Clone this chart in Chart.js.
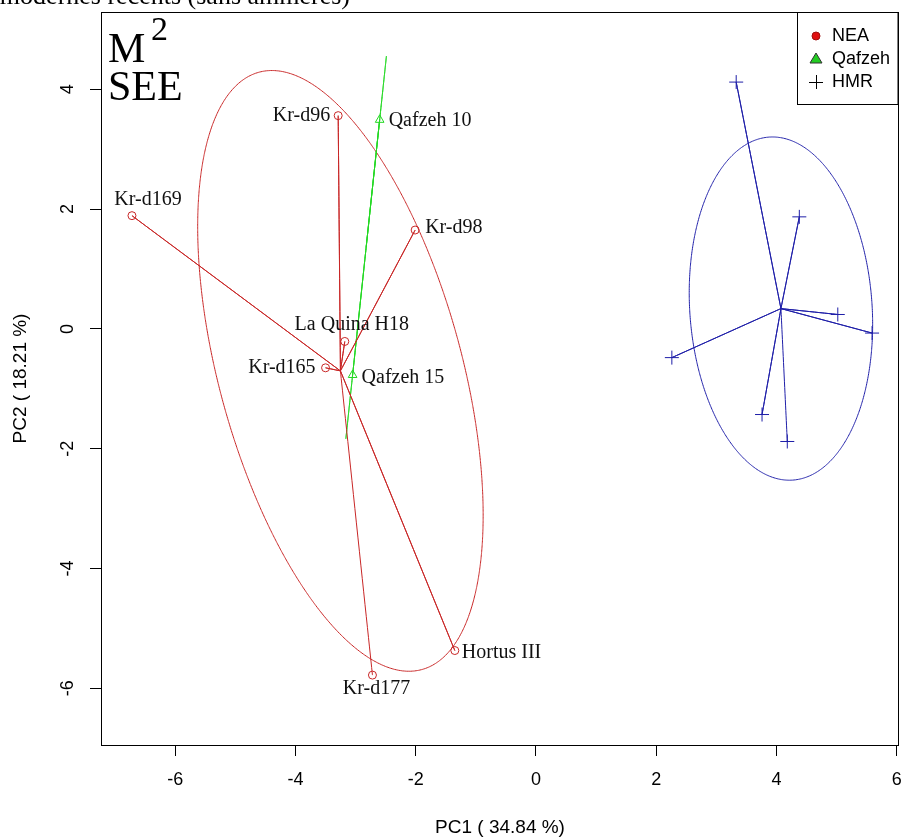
<!DOCTYPE html>
<html>
<head>
<meta charset="utf-8">
<script src="https://cdn.jsdelivr.net/npm/chart.js@4.4.1/dist/chart.umd.min.js"></script>
<style>
  body { margin: 0; background: #fff; }
  canvas { display: block; }
</style>
</head>
<body>
<canvas id="pca" width="902" height="839"></canvas>
<script>
// group names (legend order)
const groupNames = ["NEA", "Qafzeh", "HMR"];

// Neandertals
const neaLabels = ["Kr-d96", "Kr-d169", "Kr-d98", "La Quina H18", "Kr-d165", "Hortus III", "Kr-d177"];
const neaPC1 = [-3.29, -6.72, -2.01, -3.18, -3.50, -1.35, -2.72];
const neaPC2 = [3.56, 1.89, 1.65, -0.21, -0.65, -5.37, -5.78];

// Qafzeh
const qafLabels = ["Qafzeh 10", "Qafzeh 15"];
const qafPC1 = [-2.60, -3.05];
const qafPC2 = [3.49, -0.77];

// recent modern humans (no labels)
const hmrPC1 = [3.33, 4.38, 5.02, 5.59, 2.26, 3.76, 4.18];
const hmrPC2 = [4.12, 1.87, 0.24, -0.07, -0.48, -1.43, -1.88];

const xTicks = [-6, -4, -2, 0, 2, 4, 6];
const yTicks = [-6, -4, -2, 0, 2, 4];

// label placement : pixel offset from the point + alignment
const neaLabelPos = [[-8, 0, "right"], [16, -16, "center"], [10, -2, "left"], [7, -17, "center"], [-10, 0, "right"], [7, 2, "left"], [4, 14, "center"]];
const qafLabelPos = [[9, 1, "left"], [9, 3, "left"]];

const RED = "#c82626";
const GREEN = "#22d822";
const BLUE = "#1e1ea8";
const SERIF = "'Liberation Serif', 'Times New Roman', serif";
const SANS = "'Liberation Sans', Arial, sans-serif";

function toPts(xs, ys) {
    return xs.map((x, i) => ({ x: x, y: ys[i] }));
}

function centroid(xs, ys) {
    let mx = 0, my = 0;
    for (let i = 0; i < xs.length; i++) { mx += xs[i]; my += ys[i]; }
    return { x: mx / xs.length, y: my / ys.length };
}

// star : centre -> each point
function starPts(xs, ys) {
    const c = centroid(xs, ys);
    const out = [];
    for (let i = 0; i < xs.length; i++) {
        out.push(c, { x: xs[i], y: ys[i] });
    }
    return out;
}

// inertia ellipse (cellipse = 1.5, like ade4 s.class)
function ellipsePts(xs, ys, k) {
    const c = centroid(xs, ys);
    const n = xs.length;
    let vxx = 0, vyy = 0, vxy = 0;
    for (let i = 0; i < n; i++) {
        const dx = xs[i] - c.x, dy = ys[i] - c.y;
        vxx += dx * dx / n; vyy += dy * dy / n; vxy += dx * dy / n;
    }
    const tr = vxx + vyy, det = vxx * vyy - vxy * vxy;
    const disc = Math.sqrt(Math.max(tr * tr / 4 - det, 0));
    const l1 = tr / 2 + disc, l2 = Math.max(tr / 2 - disc, 0);
    let v1x, v1y;
    if (Math.abs(vxy) > 1e-12) { v1x = l1 - vyy; v1y = vxy; }
    else if (vxx >= vyy) { v1x = 1; v1y = 0; }
    else { v1x = 0; v1y = 1; }
    const nrm = Math.sqrt(v1x * v1x + v1y * v1y);
    v1x /= nrm; v1y /= nrm;
    const v2x = -v1y, v2y = v1x;
    const a = k * Math.sqrt(l1), b = k * Math.sqrt(l2);
    const pts = [];
    for (let j = 0; j <= 200; j++) {
        const t = j / 200 * 2 * Math.PI;
        pts.push({
            x: c.x + a * Math.cos(t) * v1x + b * Math.sin(t) * v2x,
            y: c.y + a * Math.cos(t) * v1y + b * Math.sin(t) * v2y
        });
    }
    return pts;
}

// tension just above 0 keeps chart.js off its fast path (it breaks back-and-forth lines)
function lineSet(data, color, order) {
    return {
        data: data, showLine: true, borderColor: color, borderWidth: 1,
        pointRadius: 0, fill: false, tension: 0.001, order: order
    };
}

function pointSet(data, color, style, radius) {
    return {
        data: data, showLine: false, pointStyle: style, pointRadius: radius,
        pointBorderColor: color, pointBackgroundColor: "rgba(0,0,0,0)",
        pointBorderWidth: 1, order: 1
    };
}

// extra drawing: box, point labels, title text, legend
const annotPlugin = {
    id: "annot",
    afterDatasetsDraw(chart) {
        const ctx = chart.ctx;
        const ca = chart.chartArea;
        const xs = chart.scales.x, ys = chart.scales.y;
        ctx.save();

        // plot box
        ctx.strokeStyle = "#000";
        ctx.lineWidth = 1;
        ctx.strokeRect(ca.left + 0.5, ca.top + 0.5, ca.right - ca.left - 1, ca.bottom - ca.top);

        // point labels
        ctx.fillStyle = "#111";
        ctx.font = "20px " + SERIF;
        ctx.textBaseline = "middle";
        function labelGroup(names, px, py, pos) {
            names.forEach((nm, i) => {
                const p = pos[i];
                ctx.textAlign = p[2];
                ctx.fillText(nm, xs.getPixelForValue(px[i]) + p[0], ys.getPixelForValue(py[i]) + p[1]);
            });
        }
        labelGroup(neaLabels, neaPC1, neaPC2, neaLabelPos);
        labelGroup(qafLabels, qafPC1, qafPC2, qafLabelPos);

        // M2 / SEE
        ctx.fillStyle = "#000";
        ctx.textAlign = "left";
        ctx.textBaseline = "alphabetic";
        ctx.font = "42px " + SERIF;
        ctx.fillText("M", 108, 62);
        ctx.fillText("SEE", 108, 100);
        ctx.font = "34px " + SERIF;
        ctx.fillText("2", 151, 40);

        // cut title at the very top
        ctx.font = "26px " + SERIF;
        ctx.textAlign = "right";
        ctx.fillText("Hommes modernes récents (sans ammeres)", 350, 4);

        // legend
        const lLeft = 797.5, lTop = ca.top + 0.5, lW = ca.right - 798.5, lH = 92;
        ctx.fillStyle = "#fff";
        ctx.fillRect(lLeft, lTop, lW, lH);
        ctx.strokeStyle = "#000";
        ctx.strokeRect(lLeft, lTop, lW, lH);
        const lx = 816, ly = [36, 59, 82];
        // NEA : red dot
        ctx.beginPath();
        ctx.arc(lx, ly[0], 4, 0, 2 * Math.PI);
        ctx.fillStyle = "#e01010";
        ctx.fill();
        ctx.strokeStyle = "#a01010";
        ctx.stroke();
        // Qafzeh : green triangle
        ctx.beginPath();
        ctx.moveTo(lx, ly[1] - 6);
        ctx.lineTo(lx + 6, ly[1] + 4);
        ctx.lineTo(lx - 6, ly[1] + 4);
        ctx.closePath();
        ctx.fillStyle = "#22cc22";
        ctx.fill();
        ctx.strokeStyle = "#333";
        ctx.stroke();
        // HMR : plus
        ctx.beginPath();
        ctx.moveTo(lx - 7, ly[2] + 0.5); ctx.lineTo(lx + 7, ly[2] + 0.5);
        ctx.moveTo(lx + 0.5, ly[2] - 7); ctx.lineTo(lx + 0.5, ly[2] + 7);
        ctx.strokeStyle = "#000";
        ctx.stroke();
        ctx.fillStyle = "#000";
        ctx.font = "18px " + SANS;
        ctx.textAlign = "left";
        ctx.textBaseline = "middle";
        groupNames.forEach((g, i) => ctx.fillText(g, 832, ly[i]));

        ctx.restore();
    }
};

new Chart(document.getElementById("pca"), {
    type: "scatter",
    data: {
        datasets: [
            lineSet(ellipsePts(neaPC1, neaPC2, 1.5), RED, 3),
            lineSet(ellipsePts(qafPC1, qafPC2, 1.5), GREEN, 3),
            lineSet(ellipsePts(hmrPC1, hmrPC2, 1.5), BLUE, 3),
            lineSet(starPts(neaPC1, neaPC2), RED, 2),
            lineSet(starPts(qafPC1, qafPC2), GREEN, 2),
            lineSet(starPts(hmrPC1, hmrPC2), BLUE, 2),
            pointSet(toPts(neaPC1, neaPC2), RED, "circle", 4),
            pointSet(toPts(qafPC1, qafPC2), GREEN, "triangle", 5),
            pointSet(toPts(hmrPC1, hmrPC2), BLUE, "cross", 7)
        ]
    },
    options: {
        responsive: false,
        animation: false,
        layout: { autoPadding: false, padding: { top: 12, right: 3, left: 0, bottom: 0 } },
        plugins: {
            legend: { display: false },
            tooltip: { enabled: false }
        },
        scales: {
            x: {
                type: "linear",
                min: -7.235,
                max: 6.038,
                afterFit: s => { s.height = 94; s.paddingLeft = 0; s.paddingRight = 0; },
                afterBuildTicks: s => { s.ticks = xTicks.map(v => ({ value: v })); },
                border: { display: false },
                grid: { drawOnChartArea: false, drawTicks: true, tickLength: 11, tickColor: "#000" },
                ticks: {
                    autoSkip: false, maxRotation: 0, padding: 13, color: "#000",
                    font: { family: SANS, size: 18 }
                },
                title: {
                    display: true, text: "PC1 ( 34.84 %)", color: "#000",
                    font: { family: SANS, size: 19 }, padding: { top: 0, bottom: 0 }
                }
            },
            y: {
                type: "linear",
                min: -6.947,
                max: 5.29,
                afterFit: s => { s.width = 101; s.paddingTop = 0; s.paddingBottom = 0; },
                afterBuildTicks: s => { s.ticks = yTicks.map(v => ({ value: v })); },
                border: { display: false },
                grid: { drawOnChartArea: false, drawTicks: true, tickLength: 11, tickColor: "#000" },
                ticks: {
                    autoSkip: false, minRotation: 90, maxRotation: 90, crossAlign: "center",
                    padding: 14, color: "#000",
                    font: { family: SANS, size: 18 }
                },
                title: {
                    display: true, text: "PC2 ( 18.21 %)", color: "#000",
                    font: { family: SANS, size: 19 }, padding: { top: 9, bottom: 0 }
                }
            }
        }
    },
    plugins: [annotPlugin]
});
</script>
</body>
</html>
